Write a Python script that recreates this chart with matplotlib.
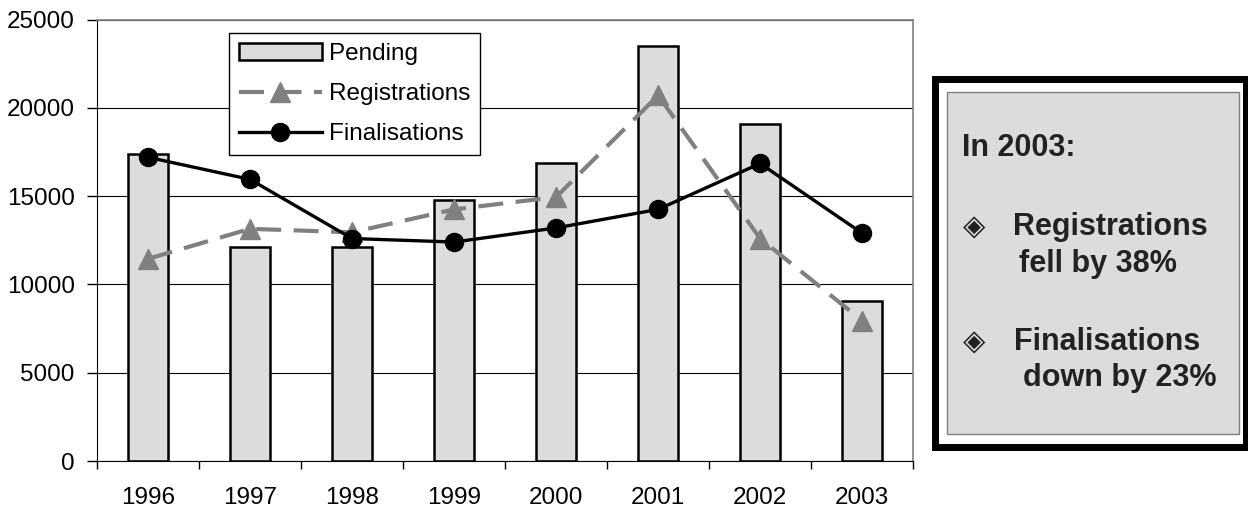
import matplotlib.pyplot as plt
import matplotlib.patches as patches
from matplotlib.lines import Line2D
import numpy as np

years = ['1996', '1997', '1998', '1999', '2000', '2001', '2002', '2003']
pending = [17400, 12100, 12100, 14800, 16900, 23500, 19100, 9050]
registrations = [11450, 13150, 12950, 14250, 14950, 20700, 12600, 7950]
finalisations = [17200, 15950, 12600, 12400, 13200, 14250, 16850, 12900]

plt.rcParams['font.family'] = ['Liberation Sans', 'DejaVu Sans']

fig = plt.figure(figsize=(12.48, 5.08), dpi=100)
ax = fig.add_axes([0.0777, 0.0925, 0.654, 0.869])

reg_style = dict(color='#808080', linestyle=(0, (6, 3)), linewidth=3.0,
                 marker='^', markersize=14)
fin_style = dict(color='black', linewidth=2.4, marker='o', markersize=13)

x = np.arange(len(years))
ax.bar(x, pending, width=0.39, color='#dcdcdc', edgecolor='black',
       linewidth=1.8, zorder=2)
ax.plot(x, registrations, zorder=3, **reg_style)
ax.plot(x, finalisations, zorder=4, **fin_style)

ax.set_xlim(-0.5, len(years) - 0.5)
ax.set_ylim(0, 25000)
ax.set_yticks(range(0, 25001, 5000))
ax.set_xticks(x)
ax.set_xticklabels(years)
ax.set_xticks(np.arange(-0.5, len(years), 1.0), minor=True)
ax.tick_params(axis='x', which='major', length=0, pad=19, labelsize=17.5)
ax.tick_params(axis='x', which='minor', length=6, width=1, direction='out')
ax.tick_params(axis='y', length=7, width=1, direction='out', pad=9,
               labelsize=17.5)
ax.yaxis.grid(True, color='black', linewidth=0.8)
ax.set_axisbelow(True)

for side in ['top', 'right']:
    ax.spines[side].set_color('#808080')
    ax.spines[side].set_linewidth(1.2)
ax.spines['left'].set_color('black')
ax.spines['bottom'].set_color('black')

handles = [
    patches.Rectangle((0, 0), 1, 1, facecolor='#dcdcdc', edgecolor='black', linewidth=1.8),
    Line2D([], [], **reg_style),
    Line2D([], [], **fin_style),
]
leg = ax.legend(handles, ['Pending', 'Registrations', 'Finalisations'],
                loc='upper left', bbox_to_anchor=(0.162, 0.969),
                fontsize=17.5, frameon=True, fancybox=False, framealpha=1,
                edgecolor='black', handlelength=3.4, handletextpad=0.3,
                labelspacing=0.75, borderpad=0.4, borderaxespad=0)
leg.get_frame().set_linewidth(1.0)

# side note box
W, H = 1248.0, 508.0
outer = patches.Rectangle((935 / W, 1 - 447 / H), 311 / W, 368 / H,
                          transform=fig.transFigure, facecolor='white',
                          edgecolor='black', linewidth=5)
inner = patches.Rectangle((947 / W, 1 - 434 / H), 292 / W, 342 / H,
                          transform=fig.transFigure, facecolor='#dcdcdc',
                          edgecolor='#808080', linewidth=1)
fig.patches.extend([outer, inner])

fs = 22
tc = '#222222'
fig.text(962 / W, 1 - 148 / H, 'In 2003:', fontsize=fs, fontweight='bold',
         va='center', ha='left', color=tc)
fig.text(974 / W, 1 - 227 / H, '◈', fontsize=21, va='center', ha='center',
         family='DejaVu Sans', color=tc)
fig.text(1013 / W, 1 - 227 / H, 'Registrations', fontsize=fs,
         fontweight='bold', va='center', ha='left', color=tc)
fig.text(1019 / W, 1 - 264 / H, 'fell by 38%', fontsize=fs,
         fontweight='bold', va='center', ha='left', color=tc)
fig.text(974 / W, 1 - 342 / H, '◈', fontsize=21, va='center', ha='center',
         family='DejaVu Sans', color=tc)
fig.text(1014 / W, 1 - 342 / H, 'Finalisations', fontsize=fs,
         fontweight='bold', va='center', ha='left', color=tc)
fig.text(1023 / W, 1 - 378 / H, 'down by 23%', fontsize=fs,
         fontweight='bold', va='center', ha='left', color=tc)

fig.savefig('out.png', dpi=100)
